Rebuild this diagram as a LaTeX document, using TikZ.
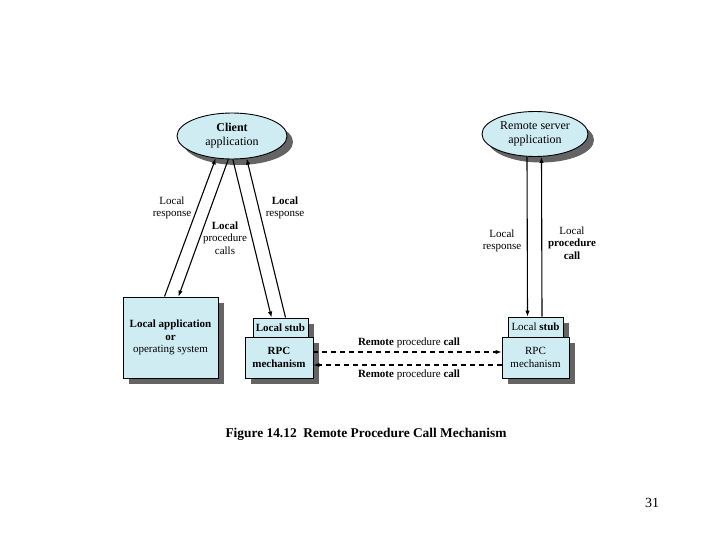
\documentclass[tikz,border=0pt]{standalone}
\usepackage{fontspec}
\setmainfont{Liberation Serif}
\usepackage{tikz}
\usetikzlibrary{shapes.geometric,shadows,arrows.meta}

\definecolor{rpcfill}{RGB}{207,236,243}
\definecolor{rpcshade}{RGB}{100,100,100}

\tikzset{
  shade box/.style={draw, line width=0.9pt, fill=rpcfill, align=center, inner sep=0pt,
    drop shadow={shadow xshift=6pt, shadow yshift=-6pt, fill=rpcshade, opacity=1}},
  app ellipse/.style={shade box, ellipse, font=\fontsize{12}{14}\selectfont},
  label text/.style={align=center, font=\fontsize{11}{12.6}\selectfont},
  flow/.style={line width=1.1pt, -{Latex[length=6pt,width=4.5pt]}},
  remote flow/.style={flow, dash pattern=on 5pt off 4pt}
}

\begin{document}
\begin{tikzpicture}[x=1pt,y=-1pt,font=\fontsize{11}{12.6}\selectfont]
\useasboundingbox (0,0) rectangle (720,540);

\node[app ellipse, minimum width=110pt, minimum height=46pt] (client) at (232,136) {\textbf{Client}\\application};
\node[app ellipse, minimum width=106pt, minimum height=45pt] (server) at (535,134) {Remote server\\application};

\node[shade box, minimum width=95pt, minimum height=81pt] (localapp) at (170.5,337.5)
  {\textbf{Local application}\\\textbf{or}\\operating system};

\node[shade box, minimum width=55pt, minimum height=19pt] (cstub) at (280.5,327.5) {\textbf{Local stub}};
\node[shade box, minimum width=68pt, minimum height=41pt] (crpc) at (279,357.5) {\textbf{RPC}\\\textbf{mechanism}};

\node[shade box, minimum width=55pt, minimum height=20pt] (sstub) at (535.5,327) {Local \textbf{stub}};
\node[shade box, minimum width=67pt, minimum height=41pt] (srpc) at (535.5,357.5) {RPC\\mechanism};

% client side
\draw[flow] ([xshift=-6pt]localapp.north) -- (client.234);
\draw[flow] (client.261) -- ([xshift=8pt]localapp.north);
\draw[flow] (client.272) -- ([xshift=-9pt]cstub.north);
\draw[flow] ([xshift=5pt]cstub.north) -- (client.303);

% server side
\draw[flow] ([xshift=-8pt]server.south) -- ([xshift=-8pt]sstub.north);
\draw[flow] ([xshift=6.5pt]sstub.north) -- ([xshift=6.5pt]server.south);

% remote calls
\draw[remote flow] ([yshift=5.5pt]crpc.east) -- ([yshift=5.5pt]srpc.west);
\draw[remote flow] ([yshift=-7.5pt]srpc.west) -- ([yshift=-7.5pt]crpc.east);

\node[label text] (lresp) at (172,208) {Local\\response};
\node[label text] (lcalls) at (225,238) {\textbf{Local}\\procedure\\calls};
\node[label text] (rresp) at (285,208) {\textbf{Local}\\response};
\node[label text] (sresp) at (502,241) {Local\\response};
\node[label text] (scall) at (572,243) {Local\\\textbf{procedure}\\\textbf{call}};
\node[label text] (callup) at (409,343) {\textbf{Remote} procedure \textbf{call}};
\node[label text] (calldown) at (409,375) {\textbf{Remote} procedure \textbf{call}};

\node[font=\fontsize{13.4}{15}\selectfont\bfseries] (caption) at (366,434) {Figure 14.12\ \ Remote Procedure Call Mechanism};
\node[font=\fontsize{14}{16}\selectfont] (pagenum) at (652,503) {31};

\end{tikzpicture}
\end{document}
